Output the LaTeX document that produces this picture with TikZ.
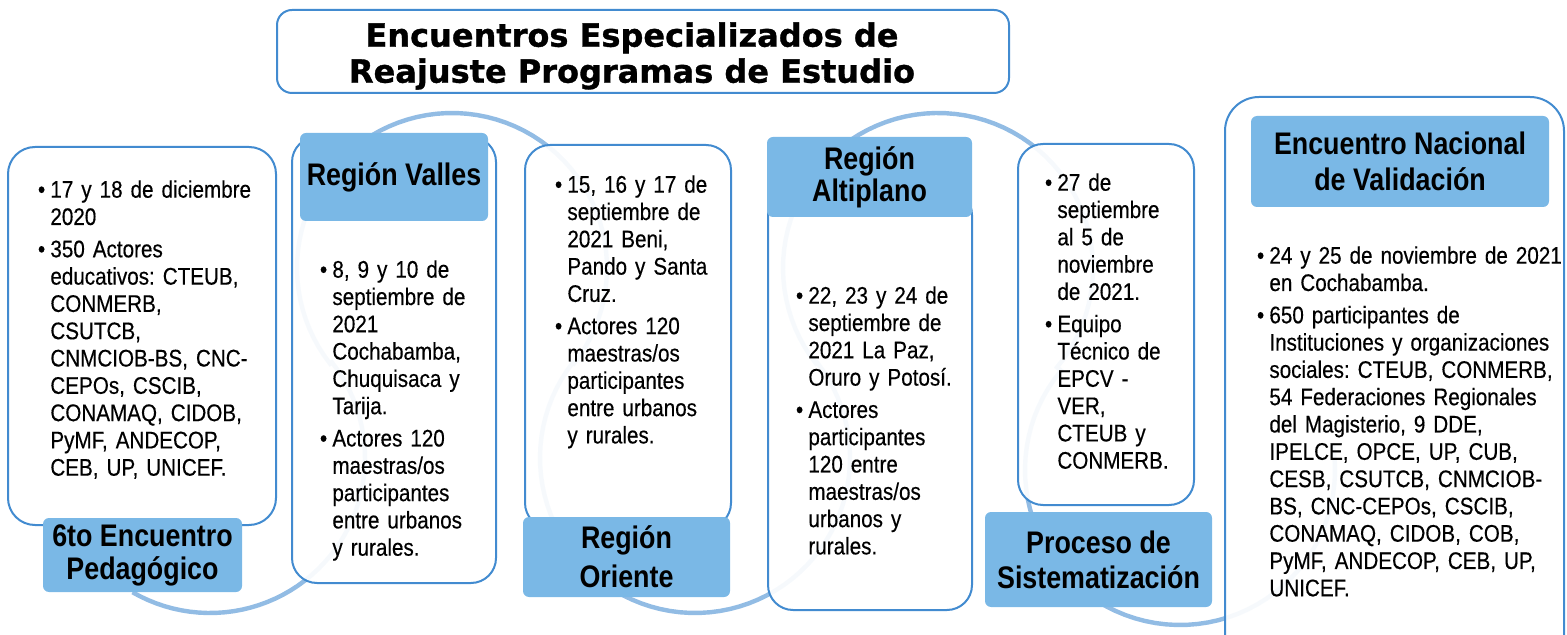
\documentclass[tikz,border=0pt]{standalone}
\usepackage{fontspec}
\setmainfont{Liberation Sans}[FakeStretch=0.86, UprightFeatures={FakeBold=0.35}]
\newfontfamily\titlefont{DejaVu Sans}[BoldFeatures={FakeBold=1}]
\usepackage{enumitem}
\setlist[itemize]{nosep,leftmargin=7pt,labelsep=2.6pt,itemsep=2.5pt,label=\textbullet}
\usetikzlibrary{fit}
\definecolor{edgeblue}{RGB}{66,139,208}
\definecolor{headblue}{RGB}{122,184,230}
\definecolor{waveblue}{RGB}{146,188,228}
\frenchspacing
\newcommand{\bodyfont}{\fontsize{12}{13.65}\selectfont\spaceskip=2.8pt plus 0.5pt minus 0.3pt\relax}

\begin{document}
\begin{tikzpicture}[x=0.5pt, y=-0.5pt,
  panel/.style={draw=edgeblue, line width=1pt, fill=white, fill opacity=0.92, rounded corners=12.5pt, inner sep=0pt},
  head/.style={fill=headblue, rounded corners=3pt, inner sep=0pt},
  headtext/.style={inner sep=0pt, align=center},
  body/.style={anchor=north west, inner sep=0pt, text width=135pt, align=left, font=\bodyfont},
  wave/.style={draw=waveblue, line width=2.2pt}]
\useasboundingbox (0,0) rectangle (1567,635);
\clip (0,0) rectangle (1567,635);

% wave behind the boxes
\draw[wave] plot[domain=120:-38.13, samples=50] ({210+155*cos(\x)}, {458+155*sin(\x)})
  -- plot[domain=141.87:398.02, samples=70] ({452+155*cos(\x)}, {268+155*sin(\x)})
  -- plot[domain=218.02:-38.02, samples=70] ({695+155*cos(\x)}, {458+155*sin(\x)})
  -- plot[domain=141.98:399.85, samples=70] ({938+155*cos(\x)}, {268+155*sin(\x)})
  -- plot[domain=219.85:-10, samples=60] ({1180+155*cos(\x)}, {470+155*sin(\x)});

% title
\node[draw=edgeblue, line width=1pt, rounded corners=7.5pt, inner sep=0pt, fit={(277,10) (1009,93)}] (titlebox) {};
\node[font=\titlefont\bfseries\fontsize{16}{18}\selectfont, align=center] (title) at (632,56)
  {Encuentros Especializados de\\Reajuste Programas de Estudio};

% panels
\node[panel, rounded corners=13.5pt, fit={(8,147) (276,525)}] (pedag) {};
\node[panel, fit={(292,137) (496,583)}] (valles) {};
\node[panel, fit={(525,145) (731,528)}] (oriente) {};
\node[panel, fit={(768,190) (972,610)}] (altip) {};
\node[panel, fit={(1018,144) (1194,505)}] (sist) {};
\node[panel, rounded corners=17pt, fit={(1225,97) (1564,690)}] (nacional) {};

% headers
\node[head, fit={(43,518) (242,592)}] (pedag-h) {};
\node[head, fit={(300,133) (488,221)}] (valles-h) {};
\node[head, fit={(523,517) (730,597)}] (oriente-h) {};
\node[head, fit={(767,137) (972,217)}] (altip-h) {};
\node[head, fit={(985,512) (1212,607)}] (sist-h) {};
\node[head, fit={(1251,116) (1549,207)}] (nacional-h) {};

\node[headtext, font=\bfseries\fontsize{15.6}{16.5}\selectfont] at (pedag-h.center) {6to Encuentro\\Pedagógico};
\node[headtext, font=\bfseries\fontsize{15.6}{17}\selectfont] at (valles-h.center) {Región Valles};
\node[headtext, font=\bfseries\fontsize{15.6}{19.5}\selectfont] at (oriente-h.center) {Región\\Oriente};
\node[headtext, font=\bfseries\fontsize{15.6}{16}\selectfont] at (altip-h.center) {Región\\Altiplano};
\node[headtext, font=\bfseries\fontsize{15.6}{17.5}\selectfont] at (sist-h.center) {Proceso de\\Sistematización};
\node[headtext, font=\bfseries\fontsize{15.6}{18}\selectfont] at (nacional-h.center) {Encuentro Nacional\\de Validación};

% texts
\node[body] (pedag-t) at (36,170) {\begin{itemize}
  \item 17 y 18 de diciembre\\2020
  \item 350 Actores\\educativos: CTEUB,\\CONMERB,\\CSUTCB,\\CNMCIOB-BS, CNC-\\CEPOs, CSCIB,\\CONAMAQ, CIDOB,\\PyMF, ANDECOP,\\CEB, UP, UNICEF.
\end{itemize}};
\node[body] (valles-t) at (318,250) {\begin{itemize}
  \item 8, 9 y 10 de\\septiembre de\\2021\\Cochabamba,\\Chuquisaca y\\Tarija.
  \item Actores 120\\maestras/os\\participantes\\entre urbanos\\y rurales.
\end{itemize}};
\node[body] (oriente-t) at (553,165) {\begin{itemize}
  \item 15, 16 y 17 de\\septiembre de\\2021 Beni,\\Pando y Santa\\Cruz.
  \item Actores 120\\maestras/os\\participantes\\entre urbanos\\y rurales.
\end{itemize}};
\node[body] (altip-t) at (794,276) {\begin{itemize}
  \item 22, 23 y 24 de\\septiembre de\\2021 La Paz,\\Oruro y Potosí.
  \item Actores\\participantes\\120 entre\\maestras/os\\urbanos y\\rurales.
\end{itemize}};
\node[body] (sist-t) at (1043,163) {\begin{itemize}
  \item 27 de\\septiembre\\al 5 de\\noviembre\\de 2021.
  \item Equipo\\Técnico de\\EPCV -\\VER,\\CTEUB y\\CONMERB.
\end{itemize}};
\node[body, text width=170pt] (nacional-t) at (1255,236) {\begin{itemize}
  \item 24 y 25 de noviembre de 2021\\en Cochabamba.
  \item 650 participantes de\\Instituciones y organizaciones\\sociales: CTEUB, CONMERB,\\54 Federaciones Regionales\\del Magisterio, 9 DDE,\\IPELCE, OPCE, UP, CUB,\\CESB, CSUTCB, CNMCIOB-\\BS, CNC-CEPOs, CSCIB,\\CONAMAQ, CIDOB, COB,\\PyMF, ANDECOP, CEB, UP,\\UNICEF.
\end{itemize}};
\end{tikzpicture}
\end{document}
